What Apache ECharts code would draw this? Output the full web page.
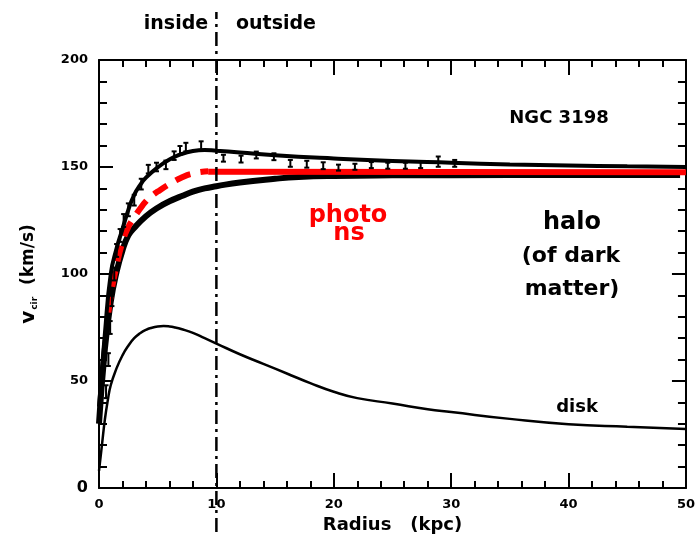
<!DOCTYPE html>
<html>
<head>
<meta charset="utf-8">
<script src="https://cdn.jsdelivr.net/npm/echarts@6/dist/echarts.min.js"></script>
<style>
html,body{margin:0;padding:0;background:#fff;}
#chart{width:698px;height:543px;}
</style>
</head>
<body>
<div id="chart"></div>
<script>
// ---- data ----
const xTicks = [0, 10, 20, 30, 40, 50];
const yTicks = [0, 50, 100, 150, 200];

const totalR = [0, 0.5, 1, 1.5, 2, 2.5, 3, 3.5, 4, 5, 6, 7, 8, 9, 10, 12, 15, 20, 25, 30, 35, 40, 45, 50];
const totalV = [38, 72, 100, 112, 121, 130, 137, 141.5, 145, 149.8, 153.5, 156, 157.5, 158, 157.6, 156.8, 155.5, 154, 152.8, 152, 151.2, 150.7, 150.3, 150];

const haloR = [0, 0.5, 1, 1.5, 2, 2.5, 3, 4, 5, 6, 7, 8, 9, 10, 12, 15, 17, 20, 25, 30, 40, 49.5];
const haloV = [30, 65, 87, 101, 111, 118, 121.5, 127, 131, 134, 136.3, 138.5, 140, 141, 142.8, 144.5, 145.3, 145.8, 146.1, 146.2, 146.3, 146.3];

const photonDashR = [0.8, 1, 1.5, 2, 2.5, 3, 3.5, 4, 4.5, 5, 6, 7, 8, 9.3];
const photonDashV = [82, 90, 104, 115, 122, 126.5, 130.5, 134, 136.5, 138.5, 142, 145, 147, 148];
const photonSolidR = [9.3, 50];
const photonSolidV = [147.8, 147.5];

const diskR = [0, 0.25, 0.5, 0.75, 1, 1.5, 2, 2.5, 3, 3.5, 4, 4.5, 5, 5.5, 6, 6.5, 7, 8, 9, 10, 12, 14, 16, 18, 20, 22, 25, 28, 30, 35, 40, 45, 50];
const diskV = [8, 20, 32, 41, 48, 56, 62, 66.5, 70, 72.3, 73.9, 74.9, 75.5, 75.7, 75.5, 75, 74.3, 72.5, 70, 67.5, 62.5, 58, 53.5, 49, 45, 42, 39.5, 36.8, 35.5, 32.3, 29.8, 28.6, 27.6];

const obsR = [0.6, 0.8, 0.95, 1.1, 1.3, 1.5, 1.8, 2.1, 2.5, 3.0, 3.6, 4.2, 4.9, 5.7, 6.4, 6.9, 7.4, 8.7,
              10.6, 12.1, 13.4, 14.9, 16.3, 17.7, 19.1, 20.4, 21.8, 23.2, 24.6, 26.1, 27.4, 28.9, 30.3];
const obsV = [45, 60, 75, 88, 100, 111, 118, 125, 130, 134.5, 142, 149, 150, 151, 155.3, 157.8, 159.3, 160,
              154.1, 153.7, 155.6, 154.8, 151.7, 151.3, 150.6, 149.7, 150.1, 150.9, 150.6, 150.6, 150.9, 152.5, 151.7];
const obsErr = [3, 3, 3, 3, 3, 3, 3, 3, 3, 2.5, 2.5, 2, 2, 2, 2, 2, 2, 2,
                1.6, 1.6, 1.6, 1.6, 1.6, 1.6, 1.6, 1.4, 1.4, 1.4, 1.4, 1.4, 1.4, 2.4, 1.6];

const boundaryR = 10;

// ---- build ----
const zip = (a, b) => a.map((v, i) => [v, b[i]]);
const FONT = '"DejaVu Sans", "Liberation Sans", Arial, sans-serif';

const chart = echarts.init(document.getElementById('chart'), null, {renderer: 'canvas'});

function baseX(pos, showLabel) {
  return {
    type: 'value', position: pos, min: 0, max: 50, interval: 10,
    axisLine: {show: true, onZero: false, lineStyle: {color: '#000', width: 2}},
    axisTick: {show: true, inside: true, length: 15, lineStyle: {color: '#000', width: 2}},
    minorTick: {show: true, splitNumber: 5, length: 7, lineStyle: {color: '#000', width: 2}},
    splitLine: {show: false},
    axisLabel: {show: showLabel, color: '#000', fontFamily: FONT, fontWeight: 'bold', fontSize: 13, margin: 10},
  };
}
function baseY(pos, showLabel) {
  return {
    type: 'value', position: pos, min: 0, max: 200, interval: 50,
    axisLine: {show: true, onZero: false, lineStyle: {color: '#000', width: 2}},
    axisTick: {show: true, inside: true, length: 14, lineStyle: {color: '#000', width: 2}},
    minorTick: {show: true, splitNumber: 5, length: 8, lineStyle: {color: '#000', width: 2}},
    splitLine: {show: false},
    axisLabel: {show: showLabel, color: '#000', fontFamily: FONT, fontWeight: 'bold', fontSize: 13, margin: 11,
      formatter: v => v === 0 ? '{b|0}' : String(v),
      rich: {b: {fontSize: 16, fontWeight: 'bold', fontFamily: FONT, color: '#000'}}},
  };
}

const xBottom = baseX('bottom', true);
xBottom.name = 'Radius   (kpc)';
xBottom.nameLocation = 'middle';
xBottom.nameGap = 27;
xBottom.nameTextStyle = {color: '#000', fontFamily: FONT, fontWeight: 'bold', fontSize: 18};

const yLeft = baseY('left', true);
yLeft.name = '{v|v}{s|cir}{g|  }{u|(km/s)}';
yLeft.nameLocation = 'middle';
yLeft.nameGap = 60;
yLeft.nameRotate = 90;
yLeft.nameTextStyle = {
  color: '#000', fontFamily: FONT, fontWeight: 'bold',
  rich: {
    v: {fontSize: 20, fontWeight: 'bold', fontFamily: FONT, color: '#000'},
    s: {fontSize: 9, fontWeight: 'bold', fontFamily: FONT, color: '#000', verticalAlign: 'bottom', padding: [0, 0, 0, 1]},
    g: {fontSize: 17, fontFamily: FONT},
    u: {fontSize: 17, fontWeight: 'bold', fontFamily: FONT, color: '#000'}
  }
};

const lineCommon = {type: 'line', showSymbol: false, smooth: 0.5, silent: true, animation: false, z: 3};

function txt(text, x, y, size, color) {
  return {type: 'text', x: x, y: y, z: 100, silent: true,
    style: {text: text, fill: color || '#000', font: 'bold ' + size + 'px ' + FONT, align: 'center', verticalAlign: 'middle'}};
}

chart.setOption({
  animation: false,
  backgroundColor: '#fff',
  grid: {left: 99, right: 8, top: 60, bottom: 55, containLabel: false},
  xAxis: [xBottom, baseX('top', false)],
  yAxis: [yLeft, baseY('right', false)],
  series: [
    Object.assign({}, lineCommon, {name: 'disk', data: zip(diskR, diskV), lineStyle: {color: '#000', width: 2.5}}),
    Object.assign({}, lineCommon, {name: 'halo', data: zip(haloR, haloV), lineStyle: {color: '#000', width: 6}}),
    Object.assign({}, lineCommon, {name: 'photons (inside)', data: zip(photonDashR, photonDashV), z: 4,
      lineStyle: {color: '#ff0000', width: 6, type: [16, 10]}}),
    Object.assign({}, lineCommon, {name: 'photons (outside)', data: zip(photonSolidR, photonSolidV), z: 4, smooth: false,
      lineStyle: {color: '#ff0000', width: 6}}),
    Object.assign({}, lineCommon, {name: 'total', data: zip(totalR, totalV), z: 5, lineStyle: {color: '#000', width: 4}}),
    {
      type: 'custom', name: 'observed', silent: true, z: 6,
      data: obsR.map((r, i) => [r, obsV[i], obsErr[i]]),
      encode: {x: 0, y: 1},
      renderItem: function (params, api) {
        const x = api.value(0), v = api.value(1), e = api.value(2);
        const t = api.coord([x, v + e]), b = api.coord([x, v - e]);
        const st = {stroke: '#000', lineWidth: 2};
        return {type: 'group', children: [
          {type: 'line', shape: {x1: t[0], y1: t[1], x2: b[0], y2: b[1]}, style: st},
          {type: 'line', shape: {x1: t[0] - 2.5, y1: t[1], x2: t[0] + 2.5, y2: t[1]}, style: st},
          {type: 'line', shape: {x1: b[0] - 2.5, y1: b[1], x2: b[0] + 2.5, y2: b[1]}, style: st}
        ]};
      }
    },
    {
      type: 'custom', name: 'boundary', silent: true, z: 7, clip: false,
      data: [[boundaryR, 0, 200]],
      encode: {x: 0, y: [1, 2]},
      renderItem: function (params, api) {
        const p0 = api.coord([api.value(0), api.value(1)]);
        const p1 = api.coord([api.value(0), api.value(2)]);
        return {type: 'line', shape: {x1: p0[0], y1: p0[1] + 44, x2: p1[0], y2: p1[1] - 48},
          style: {stroke: '#000', lineWidth: 2.5, lineDash: [14, 5, 3, 5]}};
      }
    }
  ],
  graphic: [
    txt('inside', 176, 24, 19),
    txt('outside', 276, 24, 19),
    txt('NGC 3198', 559, 118, 18),
    txt('photo', 348, 216, 24, '#ff0000'),
    txt('ns', 349, 234, 24, '#ff0000'),
    txt('halo', 572, 223, 24),
    txt('(of dark', 571, 256, 22),
    txt('matter)', 572, 289, 22),
    txt('disk', 577, 407, 18)
  ]
});
</script>
</body>
</html>
